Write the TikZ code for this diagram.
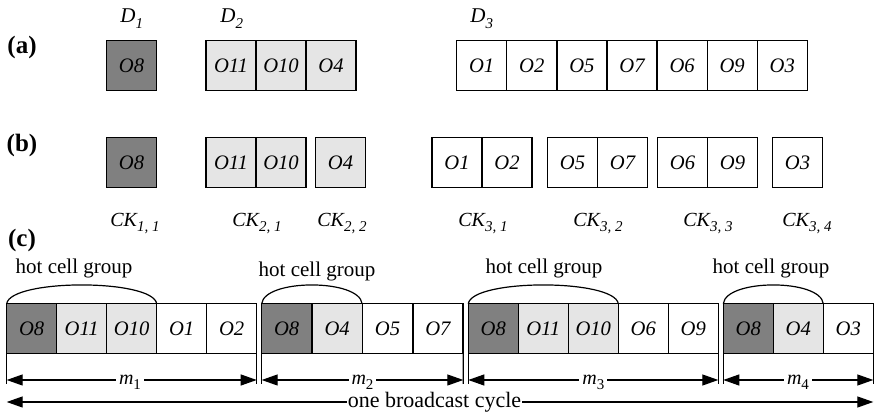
\documentclass[tikz,border=0pt]{standalone}
\usepackage{fontspec}
\setmainfont{Liberation Serif}
\usetikzlibrary{arrows.meta}
\definecolor{darkcell}{RGB}{128,128,128}
\definecolor{lightcell}{RGB}{229,229,229}
\newcommand{\mysub}[1]{\raisebox{-0.55ex}{\fontsize{7.5}{8}\selectfont #1}}
\newcommand{\mysubm}[1]{\raisebox{-0.45ex}{\fontsize{7.5}{8}\selectfont #1}}
\begin{document}
\begin{tikzpicture}[x=0.5pt,y=-0.5pt,
  cellbox/.style={draw, line width=0.6pt, minimum width=25pt, minimum height=25pt,
    inner sep=0pt, outer sep=0pt, anchor=west, font=\fontsize{10.3}{12}\selectfont\itshape},
  panel/.style={font=\fontsize{12.5}{14}\selectfont\bfseries, inner sep=0pt},
  dlabel/.style={anchor=base west, inner sep=0pt, font=\fontsize{10.5}{12}\selectfont\itshape},
  cklabel/.style={anchor=base west, inner sep=0pt, font=\fontsize{10}{12}\selectfont\itshape},
  hotlabel/.style={anchor=base, inner sep=0pt, font=\fontsize{10.5}{12}\selectfont},
  dimlabel/.style={anchor=base, fill=white, inner xsep=1.5pt, inner ysep=0pt, font=\fontsize{10}{12}\selectfont},
  bcast/.style={anchor=base, fill=white, inner xsep=0.5pt, inner ysep=0pt, font=\fontsize{11}{12}\selectfont},
  dim/.style={line width=0.6pt, {Triangle[length=8pt,width=5.5pt]}-{Triangle[length=8pt,width=5.5pt]}},
  bracket/.style={line width=0.6pt},
  arc/.style={line width=0.6pt}
]
\useasboundingbox (0,0) rectangle (874,415);

% panel labels
\node[panel] (pa) at (22,47) {(a)};
\node[panel] (pb) at (22,145) {(b)};
\node[panel] (pc) at (22,240) {(c)};

% (a) row
\node[dlabel] (d1) at (120,23) {D\mysub{\itshape 1}};
\node[dlabel] (d2) at (220,23) {D\mysub{\itshape 2}};
\node[dlabel] (d3) at (470,23) {D\mysub{\itshape 3}};
\node[cellbox,fill=darkcell] (a0) at (106.5,65.7) {O8};
\foreach \t [count=\i from 0] in {O11,O10,O4}
  \node[cellbox,fill=lightcell] (aD2\i) at ({206+50*\i},65.7) {\t};
\foreach \t [count=\i from 0] in {O1,O2,O5,O7,O6,O9,O3}
  \node[cellbox,fill=white] (aD3\i) at ({456.7+50.1*\i},65.7) {\t};

% (b) row
\node[cellbox,fill=darkcell] (b0) at (106.5,162.3) {O8};
\node[cellbox,fill=lightcell] (b21a) at (206,162.3) {O11};
\node[cellbox,fill=lightcell] (b21b) at (256,162.3) {O10};
\node[cellbox,fill=lightcell] (b22) at (315.5,162.3) {O4};
\node[cellbox] (b31a) at (432,162.3) {O1};
\node[cellbox] (b31b) at (482,162.3) {O2};
\node[cellbox] (b32a) at (547.5,162.3) {O5};
\node[cellbox] (b32b) at (597.5,162.3) {O7};
\node[cellbox] (b33a) at (657.5,162.3) {O6};
\node[cellbox] (b33b) at (707.5,162.3) {O9};
\node[cellbox] (b34) at (772.5,162.3) {O3};

\node[cklabel] (ck11) at (110,226.7) {CK\mysub{\itshape 1, 1}};
\node[cklabel] (ck21) at (232,226.7) {CK\mysub{\itshape 2, 1}};
\node[cklabel] (ck22) at (317,226.7) {CK\mysub{\itshape 2, 2}};
\node[cklabel] (ck31) at (458,226.7) {CK\mysub{\itshape 3, 1}};
\node[cklabel] (ck32) at (573,226.7) {CK\mysub{\itshape 3, 2}};
\node[cklabel] (ck33) at (683,226.7) {CK\mysub{\itshape 3, 3}};
\node[cklabel] (ck34) at (782,226.7) {CK\mysub{\itshape 3, 4}};

% (c) row
\foreach \t/\f [count=\i from 0] in {O8/darkcell,O11/lightcell,O10/lightcell,O1/white,O2/white}
  \node[cellbox,fill=\f] (ca\i) at ({6.7+50*\i},328.7) {\t};
\foreach \t/\f [count=\i from 0] in {O8/darkcell,O4/lightcell,O5/white,O7/white}
  \node[cellbox,fill=\f] (cb\i) at ({261.7+50.4*\i},328.7) {\t};
\foreach \t/\f [count=\i from 0] in {O8/darkcell,O11/lightcell,O10/lightcell,O6/white,O9/white}
  \node[cellbox,fill=\f] (cc\i) at ({468.3+50*\i},328.7) {\t};
\foreach \t/\f [count=\i from 0] in {O8/darkcell,O4/lightcell,O3/white}
  \node[cellbox,fill=\f] (cd\i) at ({723.3+50*\i},328.7) {\t};

% hot cell group arcs
\draw[arc] (ca0.north west) .. controls +(4,-25) and +(-4,-25) .. (ca2.north east);
\draw[arc] (cb0.north west) .. controls +(3,-25) and +(-3,-25) .. (cb1.north east);
\draw[arc] (cc0.north west) .. controls +(4,-25) and +(-4,-25) .. (cc2.north east);
\draw[arc] (cd0.north west) .. controls +(3,-25) and +(-3,-25) .. (cd1.north east);
\node[hotlabel] (h1) at (74,274) {hot cell group};
\node[hotlabel] (h2) at (317,277) {hot cell group};
\node[hotlabel] (h3) at (544,274) {hot cell group};
\node[hotlabel] (h4) at (771,274) {hot cell group};

% brackets
\coordinate (ga1) at (6.7,384);   \coordinate (gb1) at (256.7,384);
\coordinate (ga2) at (261.7,384); \coordinate (gb2) at (463.3,384);
\coordinate (ga3) at (468.3,384); \coordinate (gb3) at (718.3,384);
\coordinate (ga4) at (723.3,384); \coordinate (gb4) at (873.3,384);
\draw[bracket] (ca0.north west) -- (ga1);
\draw[bracket] (ca4.north east) -- (gb1);
\draw[bracket] (cb0.north west) -- (ga2);
\draw[bracket] (cb3.north east) -- (gb2);
\draw[bracket] (cc0.north west) -- (ga3);
\draw[bracket] (cc4.north east) -- (gb3);
\draw[bracket] (cd0.north west) -- (ga4);
\draw[bracket] (cd2.north east) -- (gb4);

% dimension arrows
\coordinate (ma1) at (6.7,380);   \coordinate (mb1) at (256.7,380);
\coordinate (ma2) at (261.7,380); \coordinate (mb2) at (463.3,380);
\coordinate (ma3) at (468.3,380); \coordinate (mb3) at (718.3,380);
\coordinate (ma4) at (723.3,380); \coordinate (mb4) at (873.3,380);
\draw[dim] (ma1) -- (mb1);
\draw[dim] (ma2) -- (mb2);
\draw[dim] (ma3) -- (mb3);
\draw[dim] (ma4) -- (mb4);
\node[dimlabel] (m1) at (130,385) {\textit{m}\mysubm{1}};
\node[dimlabel] (m2) at (362.5,385) {\textit{m}\mysubm{2}};
\node[dimlabel] (m3) at (593.3,385) {\textit{m}\mysubm{3}};
\node[dimlabel] (m4) at (798,385) {\textit{m}\mysubm{4}};

% broadcast cycle
\coordinate (bc1) at (6.7,402);
\coordinate (bc2) at (873.3,402);
\draw[dim] (bc1) -- (bc2);
\node[bcast] (bc) at (434.5,408) {one broadcast cycle};
\end{tikzpicture}
\end{document}
